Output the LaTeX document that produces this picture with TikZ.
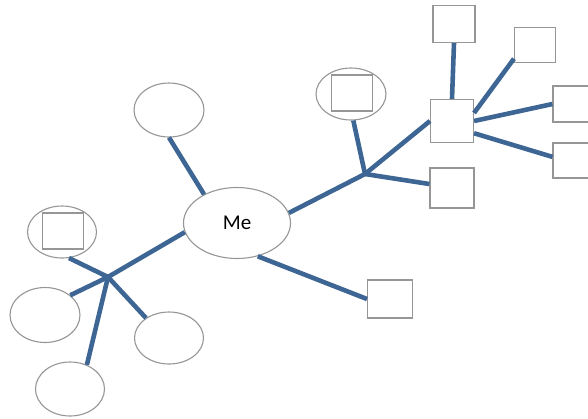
\documentclass[tikz,border=0pt]{standalone}
\usepackage{fontspec}
\setmainfont{Carlito}
\usetikzlibrary{shapes.geometric}
\definecolor{branch}{RGB}{62,102,148}
\definecolor{outline}{RGB}{150,150,150}
\tikzset{
  bubble/.style={ellipse, draw=outline, line width=1.1pt, fill=white, inner sep=0pt,
                 minimum width=#1},
  box/.style={rectangle, draw=outline, line width=1.1pt, fill=white, inner sep=0pt},
  link/.style={draw=branch, line width=4.6pt}
}
\begin{document}
\begin{tikzpicture}[x=1pt,y=-1pt]
\useasboundingbox (0,0) rectangle (588,418);
\clip (0,0) rectangle (588,418);

% hubs where branches split
\coordinate (hubL) at (108,277);
\coordinate (hubR) at (365,174);

% central topic
\node[bubble=107pt, minimum height=71pt] (me) at (237,223) {\fontsize{21}{24}\selectfont Me};

% left cluster
\node[bubble=70pt, minimum height=54pt] (top) at (169,110) {};
\node[bubble=69pt, minimum height=52pt] (lsq) at (62,232) {};
\node[box, minimum width=41pt, minimum height=36pt] (lsqin) at (63,231) {};
\node[bubble=70pt, minimum height=55pt] (lft) at (45,315) {};
\node[bubble=69pt, minimum height=52pt] (lrt) at (169,338) {};
\node[bubble=69pt, minimum height=54pt] (lbt) at (70,389) {};

% right cluster
\node[bubble=70pt, minimum height=52pt] (rsq) at (351,94) {};
\node[box, minimum width=41pt, minimum height=36pt] (rsqin) at (352,93) {};
\node[box, minimum width=43pt, minimum height=43pt] (big) at (452,121) {};
\node[box, minimum width=44pt, minimum height=40pt] (mid) at (452,188) {};
\node[box, minimum width=42pt, minimum height=37pt] (btop) at (454,24) {};
\node[box, minimum width=41pt, minimum height=35pt] (bur) at (535,45) {};
\node[box, minimum width=40pt, minimum height=36pt] (br1) at (573,104) {};
\node[box, minimum width=40pt, minimum height=35pt] (br2) at (573,160.5) {};
\node[box, minimum width=45pt, minimum height=38pt] (low) at (390,299) {};

% branches
\draw[link] (me.139) -- (top.south);
\draw[link] (me.190) -- (hubL);
\draw[link] (hubL) -- (lsq.-75);
\draw[link] (hubL) -- (lft.38);
\draw[link] (hubL) -- (lrt.139);
\draw[link] (hubL) -- (lbt.55);

\draw[link] (me.-58) -- (low.west);

\draw[link] (me.11) -- (hubR);
\draw[link] (hubR) -- (rsq.-85);
\draw[link] (hubR) -- (big.west);
\draw[link] (hubR) -- (mid.170);
\draw[link] (big.north) -- (btop.south);
\draw[link] (big.20) -- (bur.213);
\draw[link] (big.east) -- (br1.west);
\draw[link] (big.-29) -- (br2.170);
\end{tikzpicture}
\end{document}
